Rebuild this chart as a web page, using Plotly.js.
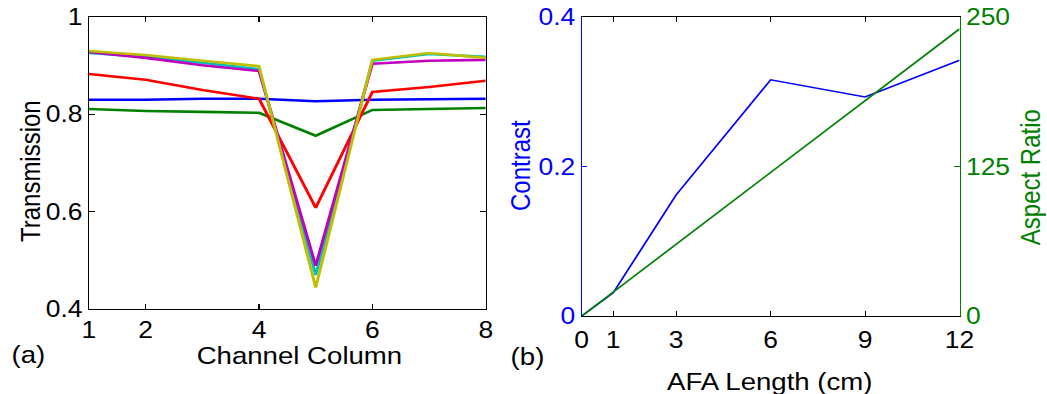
<!DOCTYPE html>
<html>
<head>
<meta charset="utf-8">
<script src="https://cdn.plot.ly/plotly-3.0.1.min.js"></script>
<style>
  html, body { margin: 0; padding: 0; background: #fff; overflow: hidden; }
  #wrap { width: 1047px; height: 394px; overflow: hidden; }
  #plot { transform-origin: 0 0; }
</style>
</head>
<body>
<div id="wrap"><div id="plot"></div></div>
<script>
// (a) transmission per channel column
const columns = [1, 2, 3, 4, 5, 6, 7, 8];
const transBlue    = [0.830, 0.830, 0.832, 0.832, 0.827, 0.830, 0.831, 0.832];
const transGreen   = [0.811, 0.807, 0.805, 0.803, 0.756, 0.809, 0.811, 0.813];
const transRed     = [0.883, 0.871, 0.850, 0.832, 0.608, 0.846, 0.856, 0.869];
const transCyan    = [0.926, 0.918, 0.906, 0.893, 0.470, 0.910, 0.924, 0.918];
const transMagenta = [0.928, 0.916, 0.901, 0.889, 0.489, 0.904, 0.910, 0.912];
const transYellow  = [0.930, 0.922, 0.910, 0.899, 0.444, 0.912, 0.926, 0.916];
const transTicks = [0.4, 0.6, 0.8, 1];
const transTickText = ['0.4', '0.6', '0.8', '1'];
const columnTicks = [1, 2, 4, 6, 8];

// (b) contrast and aspect ratio versus AFA length
const afaLength = [0, 1, 3, 6, 9, 12];
const contrast = [0, 0.031, 0.162, 0.316, 0.293, 0.342];
const aspectRatio = [0, 20, 60, 120, 180, 240];
const afaTicks = [0, 1, 3, 6, 9, 12];
const contrastTicks = [0, 0.2, 0.4];
const contrastTickText = ['0', '0.2', '0.4'];
const aspectTicks = [0, 125, 250];

// glyphs are drawn slightly wide, so lay out narrower and stretch horizontally
const SX = 1.15;
const W = 1047 / SX, H = 394;
const FONT = 'Liberation Sans, Arial, sans-serif';
const BLUE = '#0000ff', GREEN = '#008000';

const tLine = (y, color) => ({
  x: columns, y: y, xaxis: 'x', yaxis: 'y', type: 'scatter', mode: 'lines',
  line: { color: color, width: 2.6 }, hoverinfo: 'skip', showlegend: false
});

const traces = [
  tLine(transBlue, BLUE),
  tLine(transGreen, GREEN),
  tLine(transRed, '#ff0000'),
  tLine(transCyan, '#00bfbf'),
  tLine(transMagenta, '#bf00bf'),
  tLine(transYellow, '#bfbf00'),
  { x: afaLength, y: contrast, xaxis: 'x2', yaxis: 'y2', type: 'scatter', mode: 'lines',
    line: { color: BLUE, width: 1.6 }, showlegend: false },
  { x: afaLength, y: aspectRatio, xaxis: 'x2', yaxis: 'y3', type: 'scatter', mode: 'lines',
    line: { color: GREEN, width: 1.6 }, showlegend: false }
];

const px = v => v / 1047;       // horizontal position as paper fraction
const py = v => 1 - v / H;      // vertical position as paper fraction

const baseAxis = {
  showgrid: false, zeroline: false, ticks: 'inside', ticklen: 5, tickwidth: 1,
  showline: true, linewidth: 1, fixedrange: true,
  tickfont: { family: FONT, size: 23, color: '#000' }
};

const layout = {
  width: W, height: H,
  margin: { l: 0, r: 0, t: 0, b: 0 },
  paper_bgcolor: '#fff', plot_bgcolor: 'rgba(0,0,0,0)',
  font: { family: FONT, color: '#000' },
  xaxis: Object.assign({}, baseAxis, {
    domain: [px(89), px(486)], range: [1, 8], anchor: 'y',
    tickvals: columnTicks, linecolor: '#000', tickcolor: '#000', mirror: 'ticks'
  }),
  yaxis: Object.assign({}, baseAxis, {
    domain: [py(309), py(17)], range: [0.4, 1], anchor: 'x',
    tickvals: transTicks, ticktext: transTickText,
    linecolor: '#000', tickcolor: '#000', mirror: 'ticks'
  }),
  xaxis2: Object.assign({}, baseAxis, {
    domain: [px(582), px(960)], range: [0, 12], anchor: 'y2',
    tickvals: afaTicks, linecolor: '#000', tickcolor: '#000', mirror: 'ticks',
    ticklabelstandoff: 3
  }),
  yaxis2: Object.assign({}, baseAxis, {
    domain: [py(316), py(17)], range: [0, 0.4], anchor: 'x2', side: 'left',
    tickvals: contrastTicks, ticktext: contrastTickText,
    linecolor: BLUE, tickcolor: BLUE, tickfont: { family: FONT, size: 23, color: BLUE }
  }),
  yaxis3: Object.assign({}, baseAxis, {
    domain: [py(316), py(17)], range: [0, 250], anchor: 'x2', overlaying: 'y2', side: 'right',
    tickvals: aspectTicks,
    linecolor: GREEN, tickcolor: GREEN, tickfont: { family: FONT, size: 23, color: GREEN }
  }),
  annotations: [
    { text: 'Channel Column', x: px(300), y: py(355), textangle: 0 },
    { text: 'Transmission', x: px(30), y: py(171), textangle: -90 },
    { text: '(a)', x: px(28.5), y: py(354) },
    { text: '(b)', x: px(527.5), y: py(356) },
    { text: 'AFA Length (cm)', x: px(770), y: py(381) },
    { text: 'Contrast', x: px(520), y: py(165), textangle: -90, color: BLUE },
    { text: 'Aspect Ratio', x: px(1030), y: py(177), textangle: -90, color: GREEN }
  ].map(a => ({
    text: a.text, x: a.x, y: a.y, xref: 'paper', yref: 'paper',
    xanchor: 'center', yanchor: 'middle', showarrow: false, textangle: a.textangle || 0,
    font: { family: FONT, size: 24, color: a.color || '#000' }
  }))
};

const el = document.getElementById('plot');
el.style.transform = 'scaleX(' + SX + ')';
Plotly.newPlot(el, traces, layout, { displayModeBar: false, staticPlot: true });
</script>
</body>
</html>
